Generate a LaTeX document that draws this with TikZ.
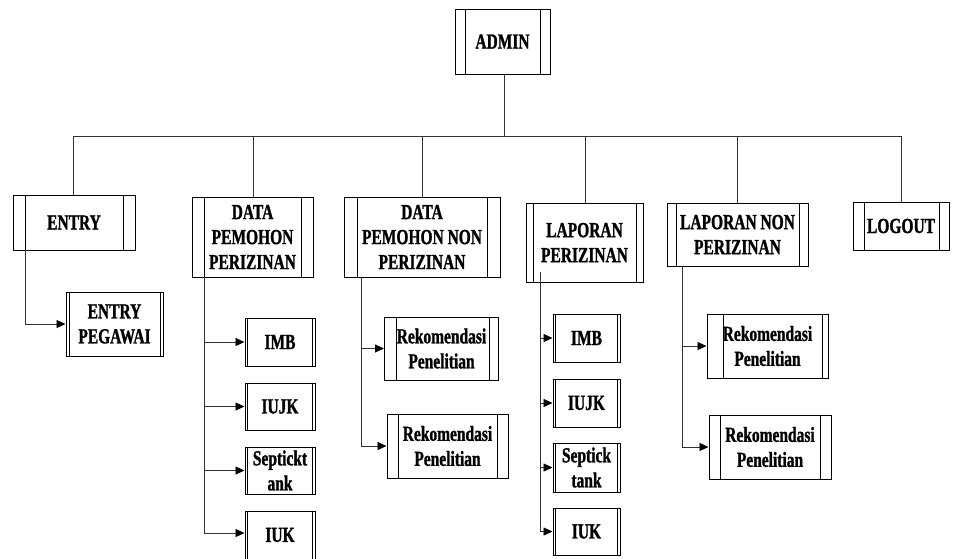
\documentclass[tikz,border=0pt]{standalone}
\usepackage{fontspec}
\newfontfamily\lblfont{Liberation Serif Bold}[FakeStretch=0.72,FakeBold=1.2]
\usetikzlibrary{arrows.meta}
\tikzset{
  box/.style={draw=black, line width=1pt, inner sep=0pt, align=center,
    font=\lblfont\fontsize{21.5}{25}\selectfont},
  sides/.style 2 args={path picture={
    \draw[line width=0.9pt] ([xshift=#1]path picture bounding box.north west) -- ([xshift=#1]path picture bounding box.south west);
    \draw[line width=0.9pt] ([xshift=-#2]path picture bounding box.north east) -- ([xshift=-#2]path picture bounding box.south east);}},
  link/.style={draw=black!80, line width=0.9pt},
  arr/.style={link, -{Triangle[length=9pt,width=8pt,color=black]}},
}
\begin{document}
\begin{tikzpicture}[x=1pt,y=-1pt]
\useasboundingbox[fill=white] (0,0) rectangle (959,558);
% top level
\node[box, sides={10pt}{10pt}, minimum width=95pt, minimum height=65pt] (admin) at (502.5,41.5) {ADMIN};
\node[box, sides={12pt}{12pt}, minimum width=122pt, minimum height=55pt] (entry) at (74,222.5) {ENTRY};
\node[box, sides={12pt}{12pt}, minimum width=121pt, minimum height=80pt] (dpp) at (252.5,237) {DATA\\PEMOHON\\PERIZINAN};
\node[box, sides={13pt}{13pt}, minimum width=156pt, minimum height=80pt] (dpnp) at (422,237) {DATA\\PEMOHON NON\\PERIZINAN};
\node[box, sides={7pt}{7pt}, minimum width=117pt, minimum height=79pt] (lp) at (584.5,242.5) {LAPORAN\\PERIZINAN};
\node[box, sides={9pt}{9pt}, minimum width=141pt, minimum height=63pt] (lnp) at (737.5,234.5) {LAPORAN NON\\PERIZINAN};
\node[box, sides={11pt}{10pt}, minimum width=96pt, minimum height=48pt] (logout) at (901,226) {LOGOUT};
% children
\node[box, sides={3pt}{3pt}, minimum width=97pt, minimum height=64pt] (peg) at (114.5,324) {ENTRY\\PEGAWAI};
\node[box, sides={2.5pt}{2.5pt}, minimum width=70pt, minimum height=48pt] (imba) at (280,342) {IMB};
\node[box, sides={2.5pt}{2.5pt}, minimum width=70pt, minimum height=47pt] (iujka) at (280,406.5) {IUJK};
\node[box, sides={2.5pt}{2.5pt}, minimum width=70pt, minimum height=47pt] (sepa) at (280,470.5) {Septickt\\ank};
\node[box, sides={2.5pt}{2.5pt}, minimum width=70pt, minimum height=48pt] (iuka) at (280,535) {IUK};
\node[box, sides={12pt}{9pt}, minimum width=114pt, minimum height=63pt] (reka) at (441.5,348.5) {Rekomendasi\\Penelitian};
\node[box, sides={11pt}{11pt}, minimum width=121pt, minimum height=64pt] (rekb) at (447.5,446) {Rekomendasi\\Penelitian};
\node[box, sides={2.5pt}{2.5pt}, minimum width=67pt, minimum height=48pt] (imbb) at (586.5,338) {IMB};
\node[box, sides={2.5pt}{2.5pt}, minimum width=67pt, minimum height=48pt] (iujkb) at (586.5,403) {IUJK};
\node[box, sides={2.5pt}{2.5pt}, minimum width=67pt, minimum height=49pt] (sepb) at (586.5,467.5) {Septick\\tank};
\node[box, sides={2.5pt}{2.5pt}, minimum width=67pt, minimum height=47pt] (iukb) at (586.5,531.5) {IUK};
\node[box, sides={16pt}{6pt}, minimum width=121pt, minimum height=64pt] (rekc) at (767.5,346) {Rekomendasi\\Penelitian};
\node[box, sides={11pt}{11pt}, minimum width=122pt, minimum height=64pt] (rekd) at (770,447) {Rekomendasi\\Penelitian};
% top connectors
\coordinate (hub) at (504,136);
\draw[link] (admin.south -| hub) -- (hub);
\draw[link] (hub) -| (73,195);
\draw[link] (hub) -| (253,197);
\draw[link] (hub) -| (422,197);
\draw[link] (hub) -| (585,203);
\draw[link] (hub) -| (737,203);
\draw[link] (hub) -| (901,202);
% branch starts
\coordinate (ev) at (25,250);
\coordinate (dppv) at (204,277);
\coordinate (dpnpv) at (361,277);
\coordinate (lpv) at (540,272);
\coordinate (lnpv) at (682,266);
\draw[arr] (ev) |- (peg.west);
\draw[arr] (dppv) |- (imba.west);
\draw[arr] (dppv) |- (iujka.west);
\draw[arr] (dppv) |- (sepa.west);
\draw[arr] (dppv) |- ([yshift=2pt]iuka.west);
\draw[arr] (dpnpv) |- (reka.west);
\draw[arr] (dpnpv) |- (rekb.west);
\draw[arr] (lpv) |- (imbb.west);
\draw[arr] (lpv) |- (iujkb.west);
\draw[arr] (lpv) |- (sepb.west);
\draw[arr] (lpv) |- (iukb.west);
\draw[arr] (lnpv) |- (rekc.west);
\draw[arr] (lnpv) |- (rekd.west);
\end{tikzpicture}
\end{document}
